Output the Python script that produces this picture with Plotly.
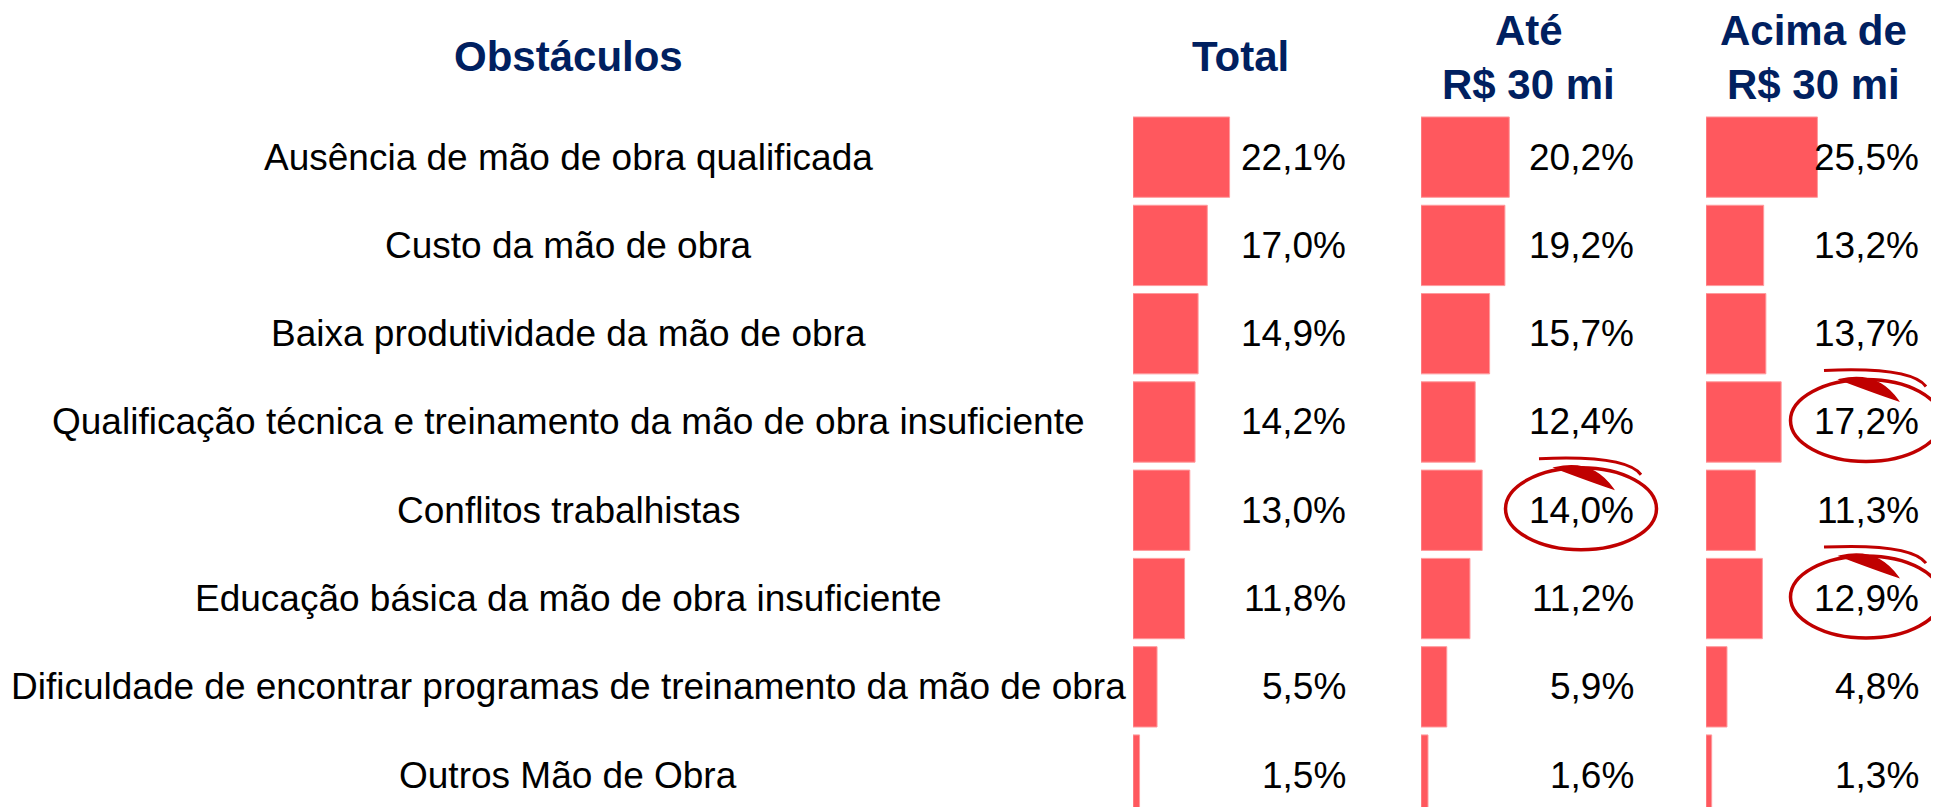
import plotly.graph_objects as go

# ---------------- data ----------------
obstaculos = [
    "Ausência de mão de obra qualificada",
    "Custo da mão de obra",
    "Baixa produtividade da mão de obra",
    "Qualificação técnica e treinamento da mão de obra insuficiente",
    "Conflitos trabalhistas",
    "Educação básica da mão de obra insuficiente",
    "Dificuldade de encontrar programas de treinamento da mão de obra",
    "Outros Mão de Obra",
]
total = [22.1, 17.0, 14.9, 14.2, 13.0, 11.8, 5.5, 1.5]
ate_30 = [20.2, 19.2, 15.7, 12.4, 14.0, 11.2, 5.9, 1.6]
acima_30 = [25.5, 13.2, 13.7, 17.2, 11.3, 12.9, 4.8, 1.3]
series = [total, ate_30, acima_30]
col_headers = [["Total"], ["Até", "R$ 30 mi"], ["Acima de", "R$ 30 mi"]]
row_header = "Obstáculos"
destaques = [(1, 4), (2, 3), (2, 5)]  # (column, row) highlighted with a red ellipse

# ---------------- geometry / style (screen pixels) ----------------
W, H = 1939, 807
OFF = 8                      # page body margin
PITCH = 88.3
TOP_PX = 157 - PITCH / 2     # screen y of top of first row
T_MARGIN = TOP_PX - OFF
PH = H - T_MARGIN
COL_START_PX = [1133, 1421, 1706]
COL_W_PX = 215
PX_PER_PCT = 4.37
LABEL_X_PX = 568
BAR_COLOR = "#FF585E"
NAVY = "#002060"
RED = "#C00000"
FONT = "Arial, Liberation Sans, sans-serif"


def ppx(px):
    return (px - OFF) / W


def ppy(py):
    return 1 - (py - OFF - T_MARGIN) / PH


def fmt(v):
    return f"{v:.1f}".replace(".", ",") + "%"


fig = go.Figure()
axis_names = ["x", "x2", "x3"]
for k, vals in enumerate(series):
    fig.add_trace(go.Bar(
        x=vals, y=obstaculos, orientation="h",
        xaxis=axis_names[k], yaxis="y",
        marker=dict(color=BAR_COLOR, line=dict(color="#FF9A9D", width=1)),
        hoverinfo="x+y", showlegend=False,
    ))

layout = dict(
    width=W, height=H,
    margin=dict(l=0, r=0, t=T_MARGIN, b=0, pad=0),
    paper_bgcolor="white", plot_bgcolor="white",
    bargap=0.09,
    font=dict(family=FONT, color="black", size=37),
    yaxis=dict(type="category", categoryorder="array", categoryarray=obstaculos,
               range=[-0.5 + PH / PITCH, -0.5], visible=False, domain=[0, 1]),
    showlegend=False,
)
for k, name in enumerate(axis_names):
    key = "xaxis" if k == 0 else f"xaxis{k + 1}"
    s = COL_START_PX[k]
    layout[key] = dict(domain=[ppx(s), ppx(s + COL_W_PX)],
                       range=[0, COL_W_PX / PX_PER_PCT],
                       visible=False, anchor="y", fixedrange=True)
fig.update_layout(**layout)

annotations = []
# category labels (centered)
for name in obstaculos:
    annotations.append(dict(x=ppx(LABEL_X_PX), xref="paper", y=name, yref="y",
                            text=name, showarrow=False, xanchor="center", yanchor="middle",
                            font=dict(size=37, color="black", family=FONT)))
# value labels
for k, vals in enumerate(series):
    dref = f"{axis_names[k]} domain"
    for name, v in zip(obstaculos, vals):
        annotations.append(dict(x=1, xref=dref, y=name, yref="y", text=fmt(v),
                                showarrow=False, xanchor="right", yanchor="middle",
                                font=dict(size=37, color="black", family=FONT)))
# headers
hdr_font = dict(size=42, color=NAVY, family=FONT)
annotations.append(dict(x=ppx(LABEL_X_PX), xref="paper", y=ppy(56), yref="paper",
                        text=f"<b>{row_header}</b>", showarrow=False,
                        xanchor="center", yanchor="middle", font=hdr_font))
for k, lines in enumerate(col_headers):
    dref = f"{axis_names[k]} domain"
    ys = [56] if len(lines) == 1 else [30, 84]
    for line, yy in zip(lines, ys):
        annotations.append(dict(x=0.5, xref=dref, y=ppy(yy), yref="paper",
                                text=f"<b>{line}</b>", showarrow=False,
                                xanchor="center", yanchor="middle", font=hdr_font))
fig.update_layout(annotations=annotations)


def quad_path(p0, c, p2, close_c=None):
    s = (f"M {ppx(p0[0])},{ppy(p0[1])} Q {ppx(c[0])},{ppy(c[1])} {ppx(p2[0])},{ppy(p2[1])}")
    if close_c is not None:
        s += f" Q {ppx(close_c[0])},{ppy(close_c[1])} {ppx(p0[0])},{ppy(p0[1])} Z"
    return s


# red hand-drawn ellipses around highlighted values
shapes = []
for col, row in destaques:
    right_px = COL_START_PX[col] + COL_W_PX
    cx = right_px - 55
    cy = TOP_PX + (row + 0.5) * PITCH - 1.5
    ew, eh = 151, 82
    shapes.append(dict(type="circle", xref="paper", yref="paper",
                       x0=ppx(cx - ew / 2), x1=ppx(cx + ew / 2),
                       y0=ppy(cy + eh / 2), y1=ppy(cy - eh / 2),
                       line=dict(color=RED, width=3.5), layer="above"))
    # thin outer over-stroke on top
    shapes.append(dict(type="path", xref="paper", yref="paper",
                       path=quad_path((cx + 60, cy - 34), (cx + 45, cy - 54), (cx - 42, cy - 50)),
                       line=dict(color=RED, width=3), layer="above"))
    # thick brush swoosh
    shapes.append(dict(type="path", xref="paper", yref="paper",
                       path=quad_path((cx - 26, cy - 41), (cx + 11, cy - 50), (cx + 32, cy - 20),
                                      close_c=(cx + 11, cy - 27)),
                       fillcolor=RED, line=dict(color=RED, width=1.5), layer="above"))
fig.update_layout(shapes=shapes)

fig.write_html("out.html")
